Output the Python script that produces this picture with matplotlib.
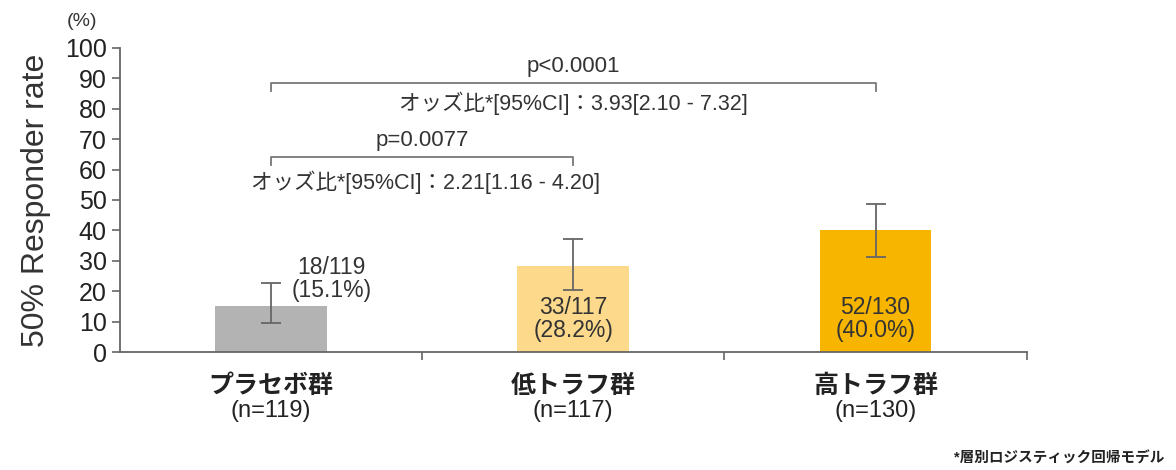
import matplotlib
matplotlib.use("Agg")
import matplotlib.pyplot as plt

plt.rcParams['font.family'] = ['Liberation Sans', 'Noto Sans CJK JP', 'DejaVu Sans']

# Data
groups = ['プラセボ群', '低トラフ群', '高トラフ群']
n_labels = ['(n=119)', '(n=117)', '(n=130)']
rates = [15.1, 28.2, 40.0]
ci_low = [9.6, 20.5, 31.4]
ci_high = [22.8, 37.3, 48.8]
counts = ['18/119\n(15.1%)', '33/117\n(28.2%)', '52/130\n(40.0%)']
colors = ['#b3b3b3', '#fdd98c', '#f7b500']

fig = plt.figure(figsize=(11.76, 4.7), dpi=100)
ax = fig.add_axes([0.102, 0.251, 0.771, 0.647])

x = list(range(len(groups)))
yerr = [[r - lo for r, lo in zip(rates, ci_low)],
        [hi - r for r, hi in zip(rates, ci_high)]]
ax.bar(x, rates, width=0.37, color=colors, zorder=2)
ax.errorbar(x, rates, yerr=yerr, fmt='none', ecolor='#666666',
            elinewidth=1.3, capsize=7, capthick=1.3, zorder=3)

# count labels
ax.text(0.2, 24, counts[0], ha='center', va='center', fontsize=16.5,
        color='#333333', linespacing=1.0)
for i in (1, 2):
    ax.text(x[i], 11, counts[i], ha='center', va='center', fontsize=16.5,
            color='#333333', linespacing=1.0)

# brackets
def bracket(x0, x1, y, drop, color='#777777'):
    ax.plot([x0, x0, x1, x1], [y - drop, y, y, y - drop], color=color,
            lw=1.3, clip_on=False)

bracket(0, 2, 88.4, 2.5)
ax.text(1, 94, 'p<0.0001', ha='center', va='center', fontsize=16, color='#333333')
ax.text(1.0, 81.8, 'オッズ比*[95%CI]：3.93[2.10 - 7.32]', ha='center', va='center',
        fontsize=15.5, color='#333333')
bracket(0, 1, 64, 2.5)
ax.text(0.5, 69.5, 'p=0.0077', ha='center', va='center', fontsize=16, color='#333333')
ax.text(0.51, 55.8, 'オッズ比*[95%CI]：2.21[1.16 - 4.20]', ha='center', va='center',
        fontsize=15.5, color='#333333')

# axes styling
ax.set_xlim(-0.5, 2.5)
ax.set_ylim(0, 100)
ax.set_yticks(range(0, 101, 10))
ax.tick_params(axis='y', labelsize=18, length=6, width=1.2, color='#666666',
               labelcolor='#222222')
ax.set_xticks(x)
ax.set_xticklabels([])
ax.tick_params(axis='x', length=0)
ax.set_xticks([0.5, 1.5, 2.5], minor=True)
ax.tick_params(axis='x', which='minor', length=6, width=1.2, color='#666666')
for s in ['top', 'right']:
    ax.spines[s].set_visible(False)
for s in ['left', 'bottom']:
    ax.spines[s].set_color('#666666')
    ax.spines[s].set_linewidth(1.3)

ax.set_ylabel('50% Responder rate', fontsize=23, color='#333333', labelpad=10)
fig.text(0.070, 0.955, '(%)', fontsize=14, color='#333333', ha='center', va='center')

# category labels
for i in x:
    ax.text(i, -11, groups[i], ha='center', va='center', fontsize=18,
            fontweight='bold', color='#222222')
    ax.text(i, -19.5, n_labels[i], ha='center', va='center', fontsize=17,
            color='#222222')

fig.text(0.99, 0.025, '*層別ロジスティック回帰モデル', ha='right', va='center',
         fontsize=10.5, fontweight='bold', color='#222222')

fig.savefig('out.png', dpi=100)
